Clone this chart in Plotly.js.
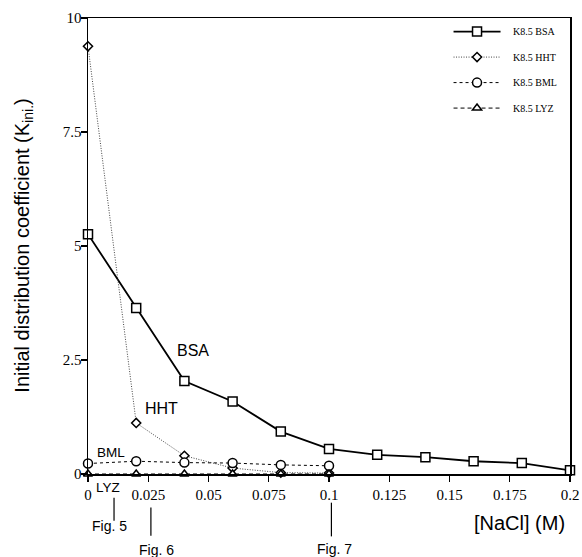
<!DOCTYPE html>
<html>
<head>
<meta charset="utf-8">
<script src="https://cdn.plot.ly/plotly-3.0.1.min.js"></script>
<style>html,body{margin:0;padding:0;background:#fff;}#chart{width:582px;height:557px;}</style>
</head>
<body>
<div id="chart"></div>
<script>
const naclBSA = [0, 0.02, 0.04, 0.06, 0.08, 0.1, 0.12, 0.14, 0.16, 0.18, 0.2];
const kBSA = [5.26, 3.64, 2.04, 1.59, 0.93, 0.55, 0.42, 0.37, 0.28, 0.24, 0.08];
const naclOther = [0, 0.02, 0.04, 0.06, 0.08, 0.1];
const kHHT = [9.38, 1.12, 0.4, 0.13, 0.03, 0.02];
const kBML = [0.23, 0.28, 0.25, 0.24, 0.2, 0.18];
const kLYZ = [0, 0, 0, 0, 0, 0];
const seriesNames = ["K8.5 BSA", "K8.5 HHT", "K8.5 BML", "K8.5 LYZ"];
const xTickVals = [0, 0.025, 0.05, 0.075, 0.1, 0.125, 0.15, 0.175, 0.2];
const yTickVals = [0, 2.5, 5, 7.5, 10];

const pad = '\u00a0\u00a0\u00a0';
const mk = (sym, size) => ({symbol: sym, size: size, color: '#fff', line: {color: '#000', width: 1.5}});

const traces = [
  {x: naclBSA, y: kBSA, name: pad + seriesNames[0], mode: 'lines+markers', legendgroup: 'a',
   line: {color: '#000', width: 1.8}, marker: mk('square', 9), cliponaxis: false},
  {x: naclOther, y: kHHT, name: pad + seriesNames[1], mode: 'lines+markers', legendgroup: 'b',
   line: {color: '#444', width: 1, dash: '1px,1.5px'}, marker: mk('diamond', 7), cliponaxis: false},
  {x: naclOther, y: kBML, name: pad + seriesNames[2], mode: 'lines+markers', legendgroup: 'c',
   line: {color: '#000', width: 1, dash: '3px,3px'}, marker: mk('circle', 9), cliponaxis: false},
  {x: naclOther, y: kLYZ, name: pad + seriesNames[3], mode: 'lines+markers', legendgroup: 'd',
   line: {color: '#000', width: 1, dash: '4px,3px'}, marker: mk('triangle-up', 8), cliponaxis: false}
];

const sans = 'Liberation Sans, Arial, sans-serif';
const serif = 'Liberation Serif, Times New Roman, serif';
const ann = (text, x, y, xref, yref, size, extra) => Object.assign({
  text: text, x: x, y: y, xref: xref, yref: yref, showarrow: false, xanchor: 'center', yanchor: 'middle',
  font: {family: sans, size: size, color: '#000'}}, extra || {});

const layout = {
  width: 582, height: 557,
  margin: {l: 88, r: 12, t: 18, b: 83},
  paper_bgcolor: '#fff', plot_bgcolor: '#fff',
  showlegend: true,
  legend: {x: 0.748, y: 1.002, xanchor: 'left', yanchor: 'top', bgcolor: 'rgba(0,0,0,0)',
           font: {family: serif, size: 10, color: '#000'}, traceorder: 'grouped', tracegroupgap: 6.5, itemwidth: 47},
  xaxis: {range: [0, 0.2], tickvals: xTickVals, ticks: 'outside', ticklen: 6, tickwidth: 1.2, tickcolor: '#000',
          showline: true, linecolor: '#000', linewidth: 1.5, mirror: true, showgrid: false, zeroline: false,
          tickfont: {family: serif, size: 15, color: '#000'}},
  yaxis: {range: [0, 10], tickvals: yTickVals, ticks: 'outside', ticklen: 6, tickwidth: 1.2, tickcolor: '#000',
          showline: true, linecolor: '#000', linewidth: 1.5, mirror: true, showgrid: false, zeroline: false,
          ticklabelstandoff: -4,
          tickfont: {family: serif, size: 15, color: '#000'}},
  annotations: [
    ann('Initial distribution coefficient (K<sub>ini.</sub>)', -0.1356, 0.5, 'paper', 'paper', 20, {textangle: -90}),
    ann('[NaCl] (M)', 0.896, -0.1067, 'paper', 'paper', 20),
    ann('BSA', 0.0435, 2.71, 'x', 'y', 16),
    ann('HHT', 0.0303, 1.43, 'x', 'y', 16),
    ann('BML', 0.0097, 0.47, 'x', 'y', 13.5),
    ann('LYZ', 0.0081, -0.0307, 'x', 'paper', 13.5),
    ann('Fig. 5', 0.00875, -0.1148, 'x', 'paper', 14),
    ann('Fig. 6', 0.0285, -0.1657, 'x', 'paper', 14),
    ann('Fig. 7', 0.1021, -0.1644, 'x', 'paper', 14)
  ],
  shapes: [
    {type: 'line', xref: 'x', yref: 'paper', x0: 0.0108, x1: 0.0108, y0: -0.052, y1: -0.1023, line: {color: '#000', width: 1.2}},
    {type: 'line', xref: 'x', yref: 'paper', x0: 0.0261, x1: 0.0261, y0: -0.0732, y1: -0.1352, line: {color: '#000', width: 1.2}},
    {type: 'line', xref: 'x', yref: 'paper', x0: 0.101, x1: 0.101, y0: -0.0629, y1: -0.1368, line: {color: '#000', width: 1.2}}
  ]
};

Plotly.newPlot('chart', traces, layout, {displayModeBar: false, staticPlot: true});
</script>
</body>
</html>
